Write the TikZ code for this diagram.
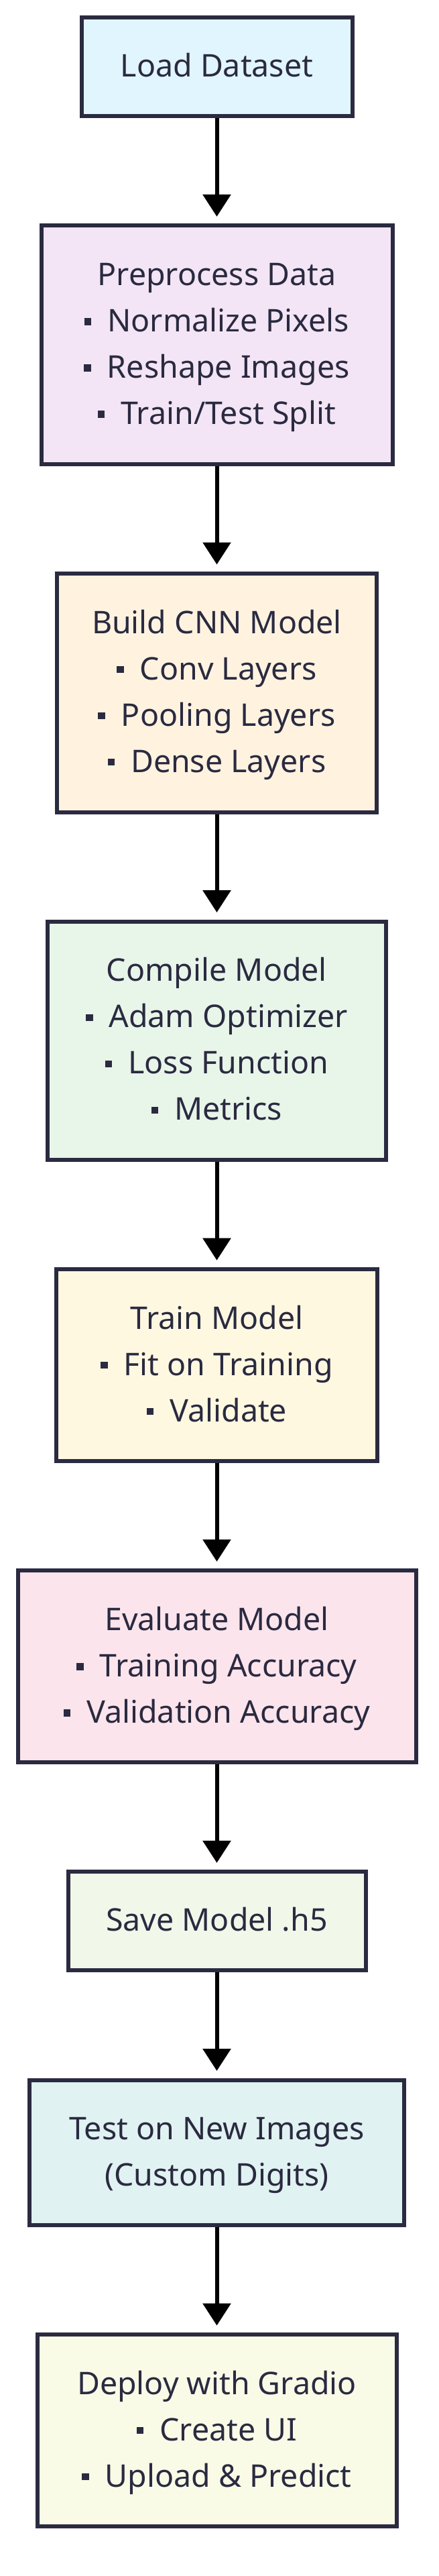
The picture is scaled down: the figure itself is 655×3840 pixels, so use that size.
\documentclass[tikz,border=0pt]{standalone}
\usepackage{fontspec}
\setmainfont{Noto Sans}
\usetikzlibrary{arrows.meta}
\definecolor{ink}{HTML}{2A2A40}
\definecolor{shade}{HTML}{EEEEEE}
\definecolor{cA}{HTML}{E1F5FE}
\definecolor{cB}{HTML}{F3E5F5}
\definecolor{cC}{HTML}{FFF3E0}
\definecolor{cD}{HTML}{E8F5E9}
\definecolor{cE}{HTML}{FFF8E1}
\definecolor{cF}{HTML}{FCE4EC}
\definecolor{cG}{HTML}{F1F8E9}
\definecolor{cH}{HTML}{E0F2F1}
\definecolor{cI}{HTML}{F9FBE7}
\newcommand\st{\rule[-19.5pt]{0pt}{69pt}}
\newcommand\bul{\st\rule[9.8pt]{10.5pt}{10.5pt}\hspace{24pt}}
\pgfdeclarelayer{bg}
\pgfsetlayers{bg,main}
\begin{document}
\begin{tikzpicture}[x=1pt,y=-1pt,
  box/.style={draw=ink, line width=6pt, text=ink, align=center,
    font=\fontsize{46.5}{69}\selectfont, inner sep=0pt, outer sep=3pt},
  arr/.style={draw=black, line width=6pt, shorten >=10.5pt,
    -{Triangle[width=41pt,length=33pt]}}]
\useasboundingbox (0,0) rectangle (655,3840);
\fill[white] (0,0) rectangle (655,3840);
\node[box, fill=cA, minimum width=404pt, minimum height=147pt] (n1) at (323.5,99.8) {\st Load Dataset};
\node[box, fill=cB, minimum width=524pt, minimum height=355.5pt] (n2) at (323.5,514.15) {\st Preprocess Data\\\bul Normalize Pixels\\\bul Reshape Images\\\bul Train/Test Split};
\node[box, fill=cC, minimum width=477pt, minimum height=355.5pt] (n3) at (323.5,1032.75) {\st Build CNN Model\\\bul Conv Layers\\\bul Pooling Layers\\\bul Dense Layers};
\node[box, fill=cD, minimum width=505pt, minimum height=355.5pt] (n4) at (323.5,1551.35) {\st Compile Model\\\bul Adam Optimizer\\\bul Loss Function\\\bul Metrics};
\node[box, fill=cE, minimum width=479pt, minimum height=286pt] (n5) at (323.5,2035.2) {\st Train Model\\\bul Fit on Training\\\bul Validate};
\node[box, fill=cF, minimum width=594pt, minimum height=286pt] (n6) at (323.5,2484.3) {\st Evaluate Model\\\bul Training Accuracy\\\bul Validation Accuracy};
\node[box, fill=cG, minimum width=444pt, minimum height=147pt] (n7) at (323.5,2863.9) {\st Save Model .h5};
\node[box, fill=cH, minimum width=559pt, minimum height=216.5pt] (n8) at (323.5,3208.75) {\st Test on New Images\\\st (Custom Digits)};
\node[box, fill=cI, minimum width=536pt, minimum height=286pt] (n9) at (323.5,3623.1) {\st Deploy with Gradio\\\bul Create UI\\\bul Upload \& Predict};
\begin{pgfonlayer}{bg}
\foreach \n in {n1,n2,n3,n4,n5,n6,n7,n8,n9}
  \fill[shade] ([shift={(13,13)}]\n.north west) rectangle ([shift={(13,13)}]\n.south east);
\end{pgfonlayer}
\draw[arr] (n1.south) -- (n2.north);
\draw[arr] (n2.south) -- (n3.north);
\draw[arr] (n3.south) -- (n4.north);
\draw[arr] (n4.south) -- (n5.north);
\draw[arr] (n5.south) -- (n6.north);
\draw[arr] (n6.south) -- (n7.north);
\draw[arr] (n7.south) -- (n8.north);
\draw[arr] (n8.south) -- (n9.north);
\end{tikzpicture}
\end{document}
